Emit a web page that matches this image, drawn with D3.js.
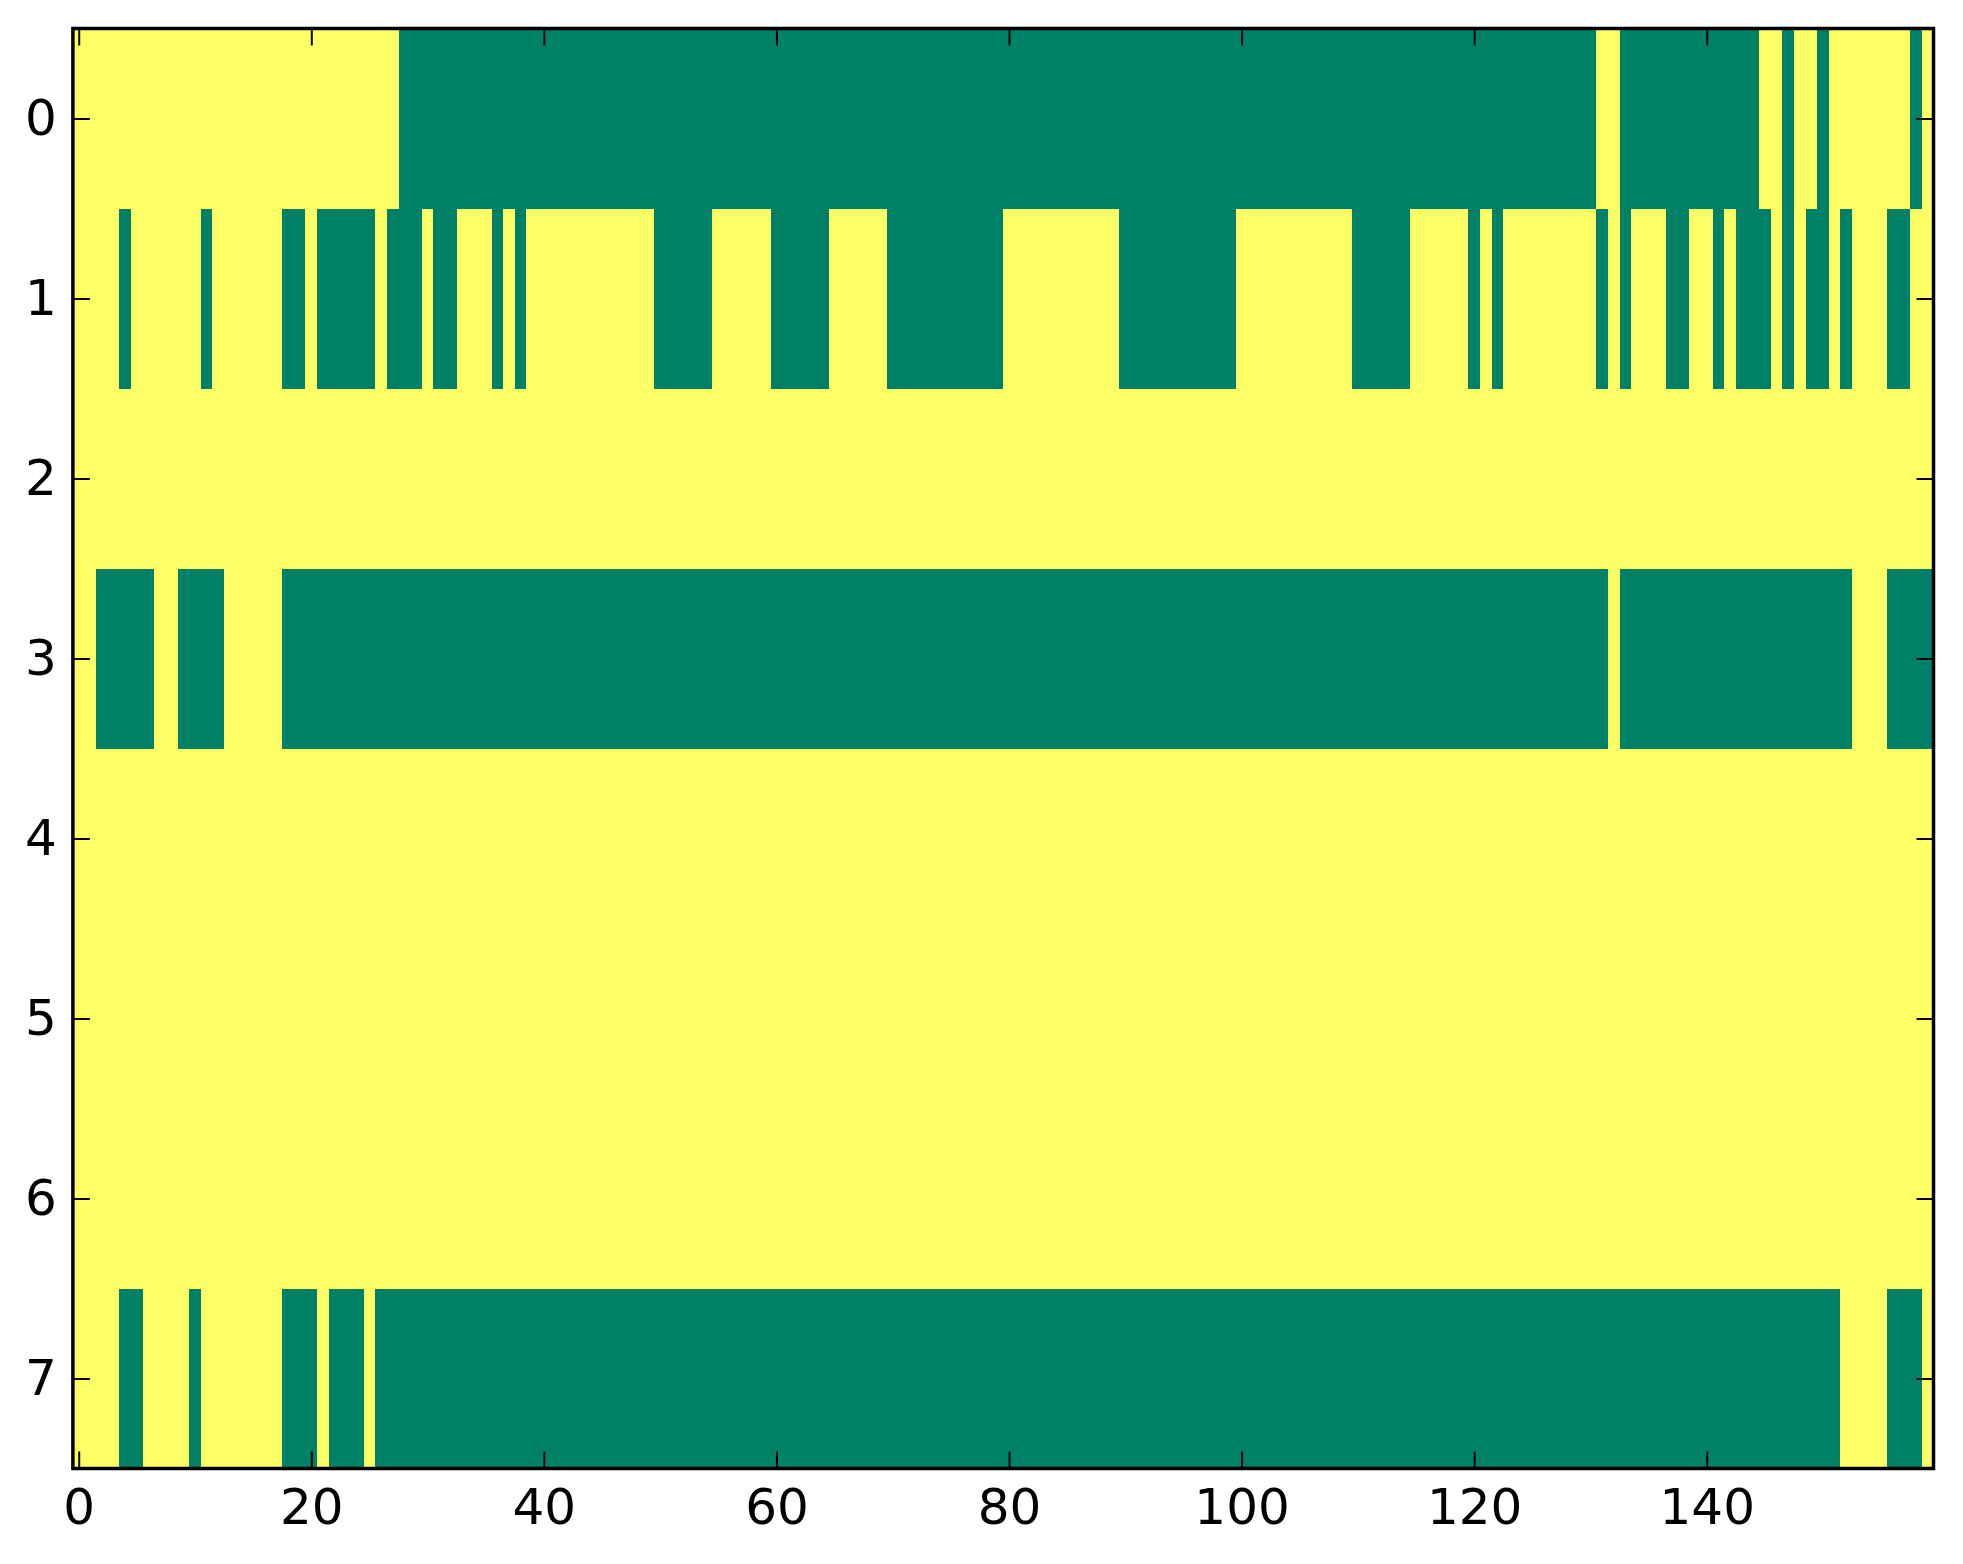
<!DOCTYPE html>
<html>
<head>
<meta charset="utf-8">
<script src="https://cdn.jsdelivr.net/npm/d3@7"></script>
<style>
  body { margin: 0; background: #fff; }
  svg { display: block; }
</style>
</head>
<body>
<script>
// binary matrix, 8 rows x 160 columns; value 1 is the default,
// the runs below list the columns [from, to] that hold 0 in each row
var nCols = 160;
var row0 = [[28,130],[133,144],[147,147],[150,150],[158,158]];
var row1 = [[4,4],[11,11],[18,19],[21,25],[27,29],[31,32],[36,36],[38,38],
            [50,54],[60,64],[70,79],[90,99],[110,114],[120,120],[122,122],
            [131,131],[133,133],[137,138],[141,141],[143,145],[147,147],
            [149,150],[152,152],[156,157]];
var row2 = [];
var row3 = [[2,6],[9,12],[18,131],[133,152],[156,159]];
var row4 = [];
var row5 = [];
var row6 = [];
var row7 = [[4,5],[10,10],[18,20],[22,24],[26,151],[156,158]];
var zeroRuns = [row0, row1, row2, row3, row4, row5, row6, row7];

var xTicks = [0, 20, 40, 60, 80, 100, 120, 140];
var yTicks = [0, 1, 2, 3, 4, 5, 6, 7];

var svgWidth = 1963;
var svgHeight = 1564;
// plot box edges (note: "top" is taken by window.top)
var plotLeft = 72.9, plotRight = 1933.5, plotTop = 28.5, plotBottom = 1468.5;
var tickLen = 17;

// summer colormap ends
var color = d3.scaleOrdinal().domain([0, 1]).range(["#008066", "#ffff66"]);

// expand the runs into one cell per column
var cells = [];
zeroRuns.forEach(function(runs, r) {
    for (let c = 0; c < nCols; c++) {
        var v = 1;
        runs.forEach(function(run) { if (c >= run[0] && c <= run[1]) v = 0; });
        cells.push({row: r, col: c, value: v});
    }
});

var x = d3.scaleLinear().domain([-0.5, nCols - 0.5]).range([plotLeft, plotRight]);
var y = d3.scaleLinear().domain([-0.5, zeroRuns.length - 0.5]).range([plotTop, plotBottom]);

var svg = d3.select("body")
    .append("svg")
        .attr("width", svgWidth)
        .attr("height", svgHeight)
        .style("font-family", "'DejaVu Sans', sans-serif");

svg.append("rect")
    .attr("width", svgWidth)
    .attr("height", svgHeight)
    .attr("fill", "#fff");

svg.append("g")
    .attr("class", "cells")
    .attr("shape-rendering", "crispEdges")
    .selectAll("rect")
    .data(cells)
    .enter()
    .append("rect")
        .attr("x", function(d) { return x(d.col - 0.5) })
        .attr("y", function(d) { return y(d.row - 0.5) })
        .attr("width", function(d) { return x(d.col + 0.5) - x(d.col - 0.5) + 0.3 })
        .attr("height", function(d) { return y(d.row + 0.5) - y(d.row - 0.5) + 0.3 })
        .attr("fill", function(d) { return color(d.value) });

function styleAxis(g) {
    g.select(".domain").remove();
    g.selectAll(".tick line").attr("stroke", "#000").attr("stroke-width", 2);
    g.selectAll(".tick text")
        .attr("fill", "#000")
        .style("font-size", "50px")
        .style("font-family", "'DejaVu Sans', sans-serif");
}

svg.append("g")
    .attr("transform", "translate(0," + plotBottom + ")")
    .call(d3.axisBottom(x).tickValues(xTicks).tickSizeInner(-tickLen).tickSizeOuter(0).tickPadding(20))
    .call(styleAxis);

svg.append("g")
    .attr("transform", "translate(0," + plotTop + ")")
    .call(d3.axisTop(x).tickValues(xTicks).tickSizeInner(-tickLen).tickSizeOuter(0).tickFormat(""))
    .call(styleAxis);

svg.append("g")
    .attr("transform", "translate(" + plotLeft + ",0)")
    .call(d3.axisLeft(y).tickValues(yTicks).tickSizeInner(-tickLen).tickSizeOuter(0).tickPadding(16))
    .call(styleAxis);

svg.append("g")
    .attr("transform", "translate(" + plotRight + ",0)")
    .call(d3.axisRight(y).tickValues(yTicks).tickSizeInner(-tickLen).tickSizeOuter(0).tickFormat(""))
    .call(styleAxis);

svg.append("rect")
    .attr("x", plotLeft)
    .attr("y", plotTop)
    .attr("width", plotRight - plotLeft)
    .attr("height", plotBottom - plotTop)
    .attr("fill", "none")
    .attr("stroke", "#000")
    .attr("stroke-width", 3.5);
</script>
</body>
</html>
